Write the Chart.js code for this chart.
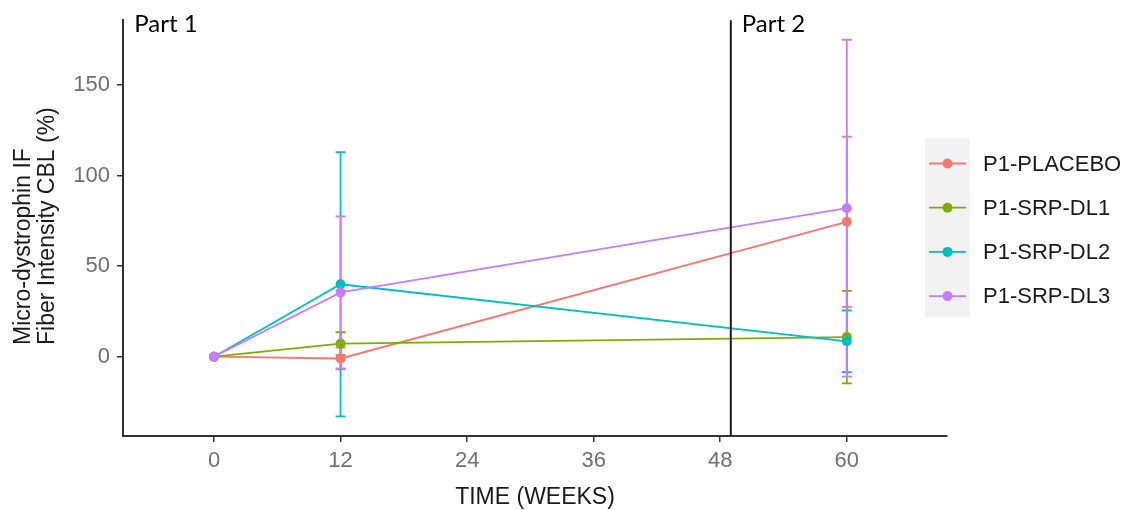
<!DOCTYPE html>
<html lang="en">
<head>
    <meta charset="UTF-8">
    <title>Micro-dystrophin IF Fiber Intensity</title>
    <script src="https://cdn.jsdelivr.net/npm/chart.js@4.4.1/dist/chart.umd.min.js"></script>
    <style>
        body { margin: 0; background: #fff; }
        #wrap { width: 1132px; height: 510px; }
    </style>
</head>
<body>
<div id="wrap">
    <canvas id="myChart" width="1132" height="510"></canvas>
</div>

<script>
    // values
    var weeks = [0, 12, 60];
    var xTicks = [0, 12, 24, 36, 48, 60];
    var yTicks = [0, 50, 100, 150];

    var groups = ['P1-PLACEBO', 'P1-SRP-DL1', 'P1-SRP-DL2', 'P1-SRP-DL3'];
    var colors = ['#F8766D', '#7CAE00', '#00BFC4', '#C77CFF'];

    var placebo = [0, -1, 74.5];
    var placeboErr = [0, 6, 47];
    var dl1 = [0, 7.2, 10.8];
    var dl1Err = [0, 6.3, 25.5];
    var dl2 = [0, 40, 8.5];
    var dl2Err = [0, 73, 17];
    var dl3 = [0, 35.5, 82];
    var dl3Err = [0, 42, 93];

    var partLine = 49;
    var partLabels = ['Part 1', 'Part 2'];
    var partAt = [-8.6, 49];

    var seriesVals = [placebo, dl1, dl2, dl3];
    var seriesErr = [placeboErr, dl1Err, dl2Err, dl3Err];

    var sans = '"Liberation Sans", Arial, sans-serif';

    var datasets = groups.map(function (g, k) {
        return {
            label: g,
            data: weeks.map(function (w, i) { return { x: w, y: seriesVals[k][i], e: seriesErr[k][i] }; }),
            borderColor: colors[k],
            backgroundColor: colors[k],
            borderWidth: 1.8,
            pointRadius: 5,
            pointBorderWidth: 0,
            pointHoverRadius: 5,
            tension: 0,
            order: 3 - k
        };
    });

    // error bars, drawn under the lines
    var errorBars = {
        id: 'errorBars',
        beforeDatasetsDraw: function (chart) {
            var ctx = chart.ctx, x = chart.scales.x, y = chart.scales.y;
            ctx.save();
            ctx.lineWidth = 1.8;
            chart.data.datasets.forEach(function (ds) {
                ctx.strokeStyle = ds.borderColor;
                ds.data.forEach(function (p) {
                    if (!p.e) return;
                    var px = x.getPixelForValue(p.x);
                    var top = y.getPixelForValue(p.y + p.e);
                    var bot = y.getPixelForValue(p.y - p.e);
                    ctx.beginPath();
                    ctx.moveTo(px, top); ctx.lineTo(px, bot);
                    ctx.moveTo(px - 5, top); ctx.lineTo(px + 5, top);
                    ctx.moveTo(px - 5, bot); ctx.lineTo(px + 5, bot);
                    ctx.stroke();
                });
            });
            ctx.restore();
        }
    };

    // vertical part divider, part labels, axis titles and legend
    var extras = {
        id: 'extras',
        afterDraw: function (chart) {
            var ctx = chart.ctx, x = chart.scales.x, y = chart.scales.y, a = chart.chartArea;
            ctx.save();

            var lx = x.getPixelForValue(partLine);
            ctx.strokeStyle = '#1a1a1a';
            ctx.lineWidth = 2;
            ctx.beginPath();
            ctx.moveTo(lx, a.top); ctx.lineTo(lx, a.bottom);
            ctx.stroke();

            ctx.fillStyle = '#000';
            ctx.font = '24px Lato, "Open Sans", sans-serif';
            ctx.textBaseline = 'alphabetic';
            ctx.textAlign = 'left';
            partLabels.forEach(function (t, i) {
                ctx.fillText(t, x.getPixelForValue(partAt[i]) + 11, 32);
            });

            // axis titles
            ctx.fillStyle = '#1a1a1a';
            ctx.font = '23px ' + sans;
            ctx.textAlign = 'center';
            ctx.fillText('TIME (WEEKS)', (a.left + a.right) / 2, 504);

            ctx.save();
            ctx.translate(30, 345);
            ctx.rotate(-Math.PI / 2);
            ctx.textAlign = 'left';
            ctx.fillText('Micro-dystrophin IF', 0, 0);
            ctx.fillText('Fiber Intensity CBL (%)', 0, 23.5);
            ctx.restore();

            // legend
            ctx.fillStyle = '#F2F2F2';
            ctx.fillRect(925, 138, 45, 179);
            ctx.font = '22px ' + sans;
            ctx.textAlign = 'left';
            ctx.textBaseline = 'middle';
            groups.forEach(function (g, i) {
                var ry = 163.5 + 44.2 * i;
                ctx.strokeStyle = colors[i];
                ctx.lineWidth = 1.8;
                ctx.beginPath();
                ctx.moveTo(929, ry); ctx.lineTo(966, ry);
                ctx.stroke();
                ctx.fillStyle = colors[i];
                ctx.beginPath();
                ctx.arc(947.5, ry, 5, 0, Math.PI * 2);
                ctx.fill();
                ctx.fillStyle = '#1a1a1a';
                ctx.fillText(g, 983, ry + 1);
            });

            ctx.restore();
        }
    };

    var ctx = document.getElementById('myChart').getContext('2d');
    var myChart = new Chart(ctx, {
        type: 'line',
        data: { datasets: datasets },
        options: {
            responsive: false,
            animation: false,
            layout: { padding: { left: 0, top: 11, right: 185, bottom: 0 } },
            plugins: {
                legend: { display: false },
                tooltip: { enabled: false }
            },
            scales: {
                x: {
                    type: 'linear',
                    min: -8.63,
                    max: 69.5,
                    afterBuildTicks: function (s) { s.ticks = xTicks.map(function (v) { return { value: v }; }); },
                    afterFit: function (s) { s.height = 74; },
                    grid: { drawOnChartArea: false, drawTicks: true, tickLength: 6, color: '#333', lineWidth: 1.5 },
                    border: { display: true, color: '#333', width: 2 },
                    ticks: { color: '#707070', font: { size: 22, family: sans }, padding: 6, maxRotation: 0 }
                },
                y: {
                    min: -43.8,
                    max: 185.8,
                    afterBuildTicks: function (s) { s.ticks = yTicks.map(function (v) { return { value: v }; }); },
                    afterFit: function (s) { s.width = 123; },
                    grid: { drawOnChartArea: false, drawTicks: true, tickLength: 6, color: '#333', lineWidth: 1.5 },
                    border: { display: true, color: '#333', width: 2 },
                    ticks: { color: '#707070', font: { size: 22, family: sans }, padding: 7 }
                }
            }
        },
        plugins: [errorBars, extras]
    });
</script>
</body>
</html>
